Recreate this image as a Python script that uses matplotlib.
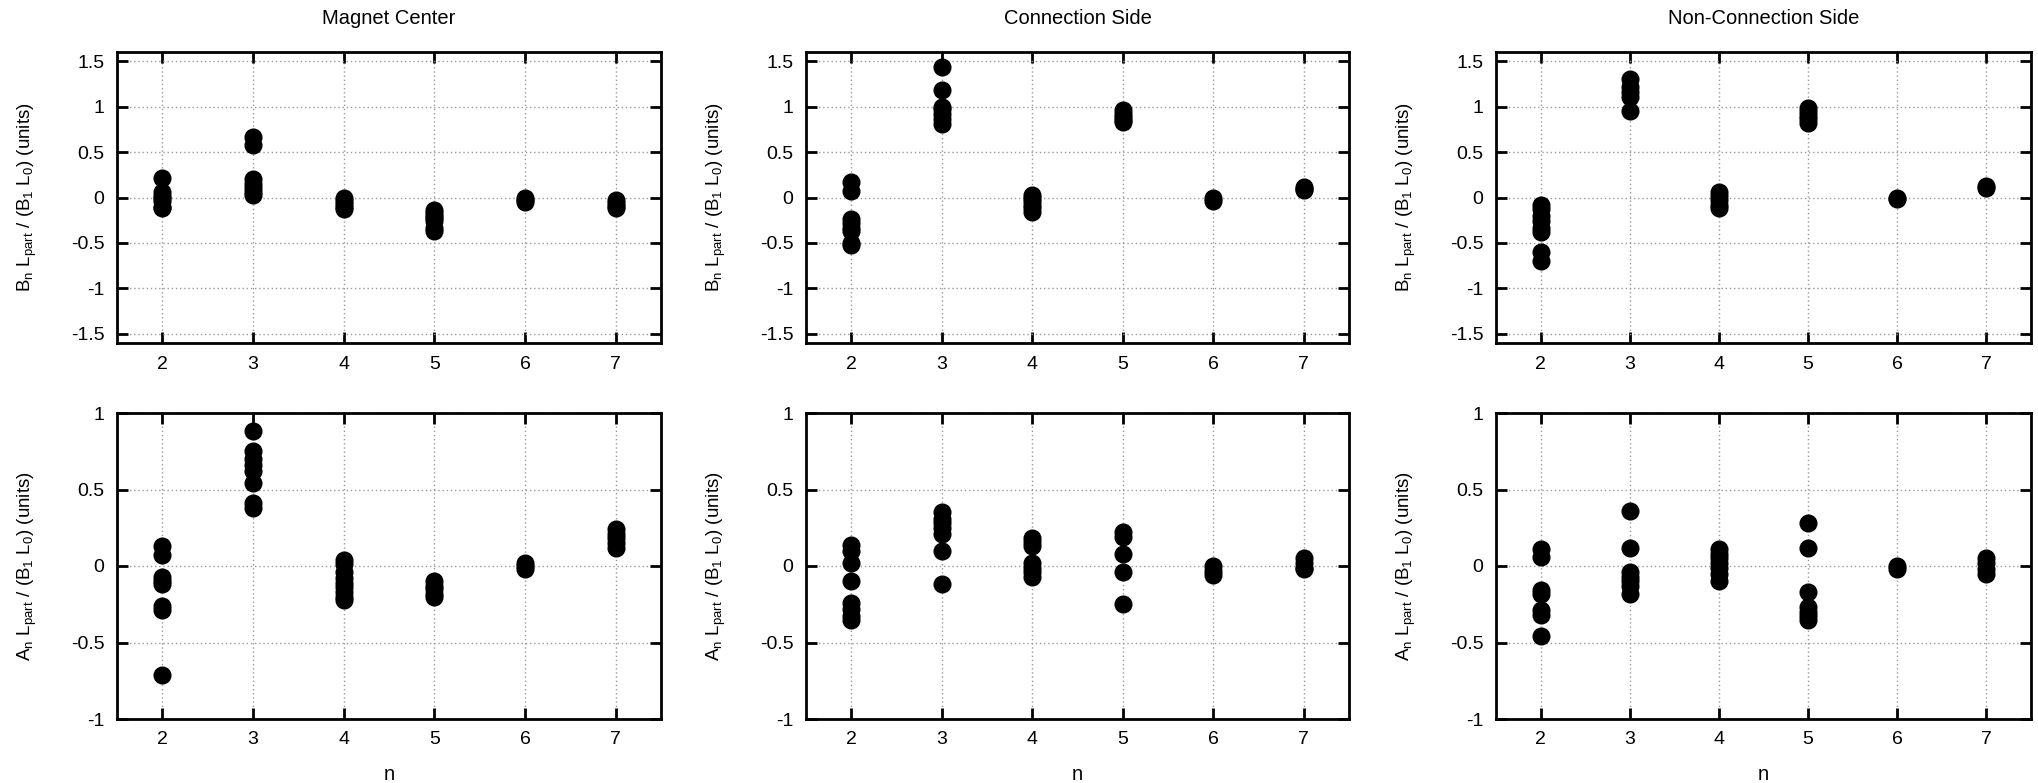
import matplotlib
matplotlib.use("Agg")
import matplotlib.pyplot as plt

plt.rcParams['font.family'] = ['Liberation Sans', 'DejaVu Sans']
plt.rcParams['mathtext.default'] = 'regular'

titles = ["Magnet Center", "Connection Side", "Non-Connection Side"]

# B_n per harmonic n = 2..7
b_center = {
    2: [0.21, 0.06, 0.02, -0.01, -0.04, -0.1, -0.12],
    3: [0.67, 0.58, 0.2, 0.15, 0.1, 0.06, 0.03],
    4: [-0.01, -0.04, -0.07, -0.1, -0.13],
    5: [-0.14, -0.17, -0.2, -0.23, -0.26, -0.34, -0.37],
    6: [-0.01, -0.03, -0.05],
    7: [-0.03, -0.06, -0.09, -0.12],
}
b_conn = {
    2: [0.17, 0.07, -0.24, -0.28, -0.34, -0.37, -0.5, -0.52],
    3: [1.44, 1.18, 1.0, 0.97, 0.92, 0.86, 0.81],
    4: [0.03, 0.0, -0.04, -0.08, -0.12, -0.16],
    5: [0.96, 0.92, 0.89, 0.85, 0.83],
    6: [-0.01, -0.04],
    7: [0.11, 0.09, 0.08],
}
b_nonconn = {
    2: [-0.08, -0.13, -0.2, -0.26, -0.33, -0.38, -0.6, -0.7],
    3: [1.3, 1.22, 1.16, 1.11, 0.95],
    4: [0.06, 0.02, -0.03, -0.08, -0.11],
    5: [0.98, 0.94, 0.9, 0.86, 0.82],
    6: [-0.01, -0.02],
    7: [0.13, 0.1],
}

# A_n per harmonic n = 2..7
a_center = {
    2: [0.13, 0.07, -0.07, -0.1, -0.12, -0.26, -0.29, -0.71],
    3: [0.88, 0.75, 0.7, 0.66, 0.62, 0.54, 0.41, 0.38],
    4: [0.04, 0.01, -0.04, -0.08, -0.11, -0.14, -0.17, -0.2, -0.22],
    5: [-0.1, -0.13, -0.15, -0.18, -0.2],
    6: [0.02, 0.0, -0.02],
    7: [0.24, 0.21, 0.18, 0.15, 0.12],
}
a_conn = {
    2: [0.14, 0.1, 0.02, -0.1, -0.24, -0.28, -0.33, -0.35],
    3: [0.35, 0.31, 0.28, 0.25, 0.21, 0.1, -0.12],
    4: [0.18, 0.16, 0.13, 0.02, -0.01, -0.04, -0.07],
    5: [0.22, 0.19, 0.08, -0.04, -0.25],
    6: [0.0, -0.03, -0.06],
    7: [0.05, 0.02, -0.01, -0.02],
}
a_nonconn = {
    2: [0.11, 0.06, -0.16, -0.18, -0.29, -0.32, -0.46],
    3: [0.36, 0.12, -0.04, -0.07, -0.1, -0.13, -0.18],
    4: [0.11, 0.08, 0.05, 0.02, -0.01, -0.05, -0.1],
    5: [0.28, 0.12, -0.17, -0.27, -0.3, -0.33, -0.35],
    6: [0.0, -0.02],
    7: [0.05, 0.02, -0.02, -0.05],
}

b_data = [b_center, b_conn, b_nonconn]
a_data = [a_center, a_conn, a_nonconn]

b_label = r'B$_n$ L$_{part}$ / (B$_1$ L$_0$) (units)'
a_label = r'A$_n$ L$_{part}$ / (B$_1$ L$_0$) (units)'

W, H = 2038, 783
fig = plt.figure(figsize=(W / 100, H / 100), dpi=100)

cols = [(117, 661), (806, 1349), (1496, 2031)]
rows = [(52, 343), (413, 719)]


def style_axes(ax, ylim, yticks, ylabel, width_px):
    ax.set_xlim(1.5, 7.5)
    ax.set_ylim(*ylim)
    ax.set_xticks(range(2, 8))
    ax.set_yticks(yticks)
    ax.set_yticklabels([f"{t:g}" for t in yticks])
    ax.grid(True, color='#999999', linestyle=(0, (1, 2)), linewidth=1)
    ax.tick_params(direction='in', length=8, width=2, top=True, right=True,
                   labelsize=14, pad=9)
    for s in ax.spines.values():
        s.set_linewidth(2)
    ax.set_ylabel(ylabel, fontsize=13.5, va='center')
    # label centre sits about 90 px left of the frame
    ax.yaxis.set_label_coords(-90 / width_px, 0.5)


for j, (x0, x1) in enumerate(cols):
    w = x1 - x0
    for i, (y0, y1) in enumerate(rows):
        ax = fig.add_axes([x0 / W, 1 - y1 / H, w / W, (y1 - y0) / H])
        data = b_data[j] if i == 0 else a_data[j]
        for n, vals in data.items():
            ax.plot([n] * len(vals), vals, 'o', color='black', markersize=12,
                    linestyle='none', zorder=3)
        if i == 0:
            style_axes(ax, (-1.6, 1.6), [-1.5, -1, -0.5, 0, 0.5, 1, 1.5], b_label, w)
            ax.set_title(titles[j], fontsize=14.5, pad=20)
        else:
            style_axes(ax, (-1, 1), [-1, -0.5, 0, 0.5, 1], a_label, w)
            ax.set_xlabel('n', fontsize=14.5, labelpad=12)

fig.savefig('out.png', dpi=100)
